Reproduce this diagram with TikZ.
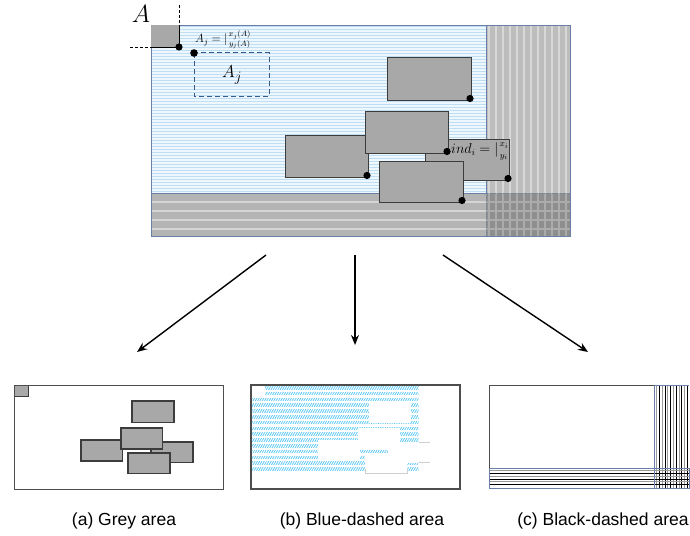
\documentclass[tikz,border=0pt]{standalone}
\usepackage{amsmath}
\usepackage{fontspec}
\setmainfont{Liberation Sans}
\usetikzlibrary{arrows.meta,patterns.meta}
\definecolor{bluebg}{HTML}{EEF7FD}
\definecolor{blueln}{HTML}{BEDEF3}
\definecolor{frameblue}{HTML}{6A7FA8}
\definecolor{colbg}{HTML}{BDBDBD}
\definecolor{colln}{HTML}{D8D8D8}
\definecolor{bandbg}{HTML}{B4B4B4}
\definecolor{bandln}{HTML}{D4D4D4}
\definecolor{cornbg}{HTML}{8E8E8E}
\definecolor{cornln}{HTML}{ABABAB}
\definecolor{rectfill}{HTML}{A8A8A8}
\definecolor{rectline}{HTML}{3C3C3C}
\definecolor{cyanh}{HTML}{5CC8F4}
\definecolor{dashblue}{HTML}{3A5A8C}
\definecolor{panelline}{HTML}{4D4D4D}
\definecolor{remnant}{HTML}{CFCFCF}
\definecolor{hatchgrey}{HTML}{9A9A9A}
\newcommand\grectlist{425/139/509/180, 387/57/471/100, 285/135/368/177, 365/111/448/153, 379/161/463/202}
\begin{document}
\begin{tikzpicture}[x=1pt,y=-1pt,
  greyrect/.style={fill=rectfill,draw=rectline,line width=0.9pt},
  cornerdot/.style={fill=black},
  flowarrow/.style={-{Stealth[length=10pt,width=8pt]},line width=1.4pt},
  caption/.style={font=\fontsize{17.5}{20}\selectfont,anchor=center},
  panel/.style={draw=panelline,line width=1pt}]
\useasboundingbox (0,0) rectangle (690,535);

% ---------------- top main picture ----------------
% blue area
\fill[bluebg] (151,25) rectangle (486,193);
\foreach \y in {26.5,29.5,...,192}
  \draw[blueln,line width=0.55pt] (151,\y) -- (486,\y);
% right column
\fill[colbg] (486,25) rectangle (570,193);
\foreach \x in {489,496,...,568}
  \draw[colln,line width=2pt] (\x,25) -- (\x,193);
% bottom band
\fill[bandbg] (151,193) rectangle (486,236);
\foreach \y in {202,211,220,229}
  \draw[bandln,line width=1.6pt] (151,\y) -- (486,\y);
% corner
\fill[cornbg] (486,193) rectangle (570,236);
\foreach \x in {489,496,...,568}
  \draw[cornln,line width=1.4pt] (\x,193) -- (\x,236);
\foreach \y in {202,211,220,229}
  \draw[cornln,line width=1.4pt] (486,\y) -- (570,\y);
\draw[frameblue,dotted,line width=0.6pt] (486,193) rectangle (570,236);
% frames
\draw[frameblue,line width=0.8pt] (486,25) -- (486,193) -- (151,193);
\draw[frameblue,line width=0.8pt] (151,25) rectangle (570,236);

% A square and guides
\fill[rectfill] (151,25) rectangle (179,47);
\draw[black,line width=0.8pt] (151,47) -- (179,47) -- (179,25);
\draw[black,dashed,line width=0.6pt,dash pattern=on 3pt off 2pt] (179,5) -- (179,47);
\draw[black,dashed,line width=0.6pt,dash pattern=on 3pt off 2pt] (130,47) -- (179,47);
\fill[cornerdot] (179,47) circle (3.6);
\node[font=\fontsize{24}{26}\selectfont] (labA) at (141,14) {$A$};

% A_j box
\draw[dashblue,line width=1pt,dash pattern=on 5pt off 3pt] (194,53) rectangle (269,96);
\fill[cornerdot] (194,53) circle (3.8);
\node[font=\fontsize{19}{21}\selectfont] (labAjbox) at (232,75) {$A_j$};
\node[font=\fontsize{12}{14}\selectfont,anchor=west,inner sep=0pt] (labAj) at (195,40)
  {$A_j=|\genfrac{}{}{0pt}{1}{x_j(A)}{y_j(A)}$};

% grey rectangles
\foreach \a/\b/\c/\d in \grectlist {
  \draw[greyrect] (\a,\b) rectangle (\c,\d);
  \fill[cornerdot] (\c-1,\d-1.5) circle (3.6);
}
\node[font=\fontsize{13.5}{16}\selectfont,anchor=west,inner sep=0pt] (labind) at (451,151)
  {$ind_i=|\genfrac{}{}{0pt}{1}{x_i}{y_i}$};

% ---------------- arrows ----------------
\coordinate (srcL) at (266,255);
\coordinate (dstL) at (137,352);
\coordinate (srcM) at (355,255);
\coordinate (dstM) at (355,345);
\coordinate (srcR) at (443,255);
\coordinate (dstR) at (588,352);
\draw[flowarrow] (srcL) -- (dstL);
\draw[flowarrow] (srcM) -- (dstM);
\draw[flowarrow] (srcR) -- (dstR);

% ---------------- panel (a) ----------------
\fill[white] (14,385) rectangle (223,489);
\begin{scope}[shift={(-61.5,372.5)},scale=0.5]
  \draw[fill=rectfill,draw=rectline,line width=0.8pt] (151,25) rectangle (179,47);
  \foreach \a/\b/\c/\d in \grectlist
    \draw[greyrect,line width=1.1pt] (\a,\b) rectangle (\c,\d);
\end{scope}
\draw[panel] (14,385) rectangle (223,489);

% ---------------- panel (b) ----------------
\begin{scope}
  \clip (251.5,386) rectangle (418.5,470);
  \foreach \k in {0,...,14}
    \fill[pattern={Lines[angle=60,distance=2pt,line width=0.8pt]},pattern color=cyanh]
      (251.5,386.5+\k*5.8) rectangle (418.5,389+\k*5.8);
\end{scope}
\begin{scope}[shift={(175.5,372.5)},scale=0.5]
  \fill[white] (151,25) rectangle (179,47);
  \foreach \a/\b/\c/\d in \grectlist
    \fill[white] (\a,\b) rectangle (\c,\d);
  \draw[remnant,line width=0.7pt] (486,139) -- (509,139);
  \draw[remnant,line width=0.7pt] (486,180) -- (509,180);
  \draw[remnant,line width=0.9pt] (379,193) -- (379,202) -- (463,202) -- (463,193);
\end{scope}
\draw[panel,line width=1.3pt] (251,385) rectangle (460,489);

% ---------------- panel (c) ----------------
\draw[panel] (654,385) -- (489,385) -- (489,468);
\foreach \x [count=\i] in {656.5,659.3,...,689} {
  \ifodd\i
    \draw[hatchgrey,line width=0.8pt] (\x,385) -- (\x,488);
  \else
    \draw[black,line width=0.8pt] (\x,385) -- (\x,488);
  \fi
}
\foreach \y [count=\i] in {470.5,473.3,...,487} {
  \ifodd\i
    \draw[hatchgrey,line width=0.8pt] (489,\y) -- (689,\y);
  \else
    \draw[black,line width=0.8pt] (489,\y) -- (689,\y);
  \fi
}
\draw[frameblue,line width=0.9pt] (654,385) -- (689,385);
\draw[frameblue,line width=0.9pt] (654,385) -- (654,488);
\draw[frameblue,line width=0.9pt] (489,468) rectangle (689,488);

% ---------------- captions ----------------
\node[caption] (capA) at (124,521) {(a) Grey area};
\node[caption] (capB) at (362,521) {(b) Blue-dashed area};
\node[caption] (capC) at (603,521) {(c) Black-dashed area};
\end{tikzpicture}
\end{document}
